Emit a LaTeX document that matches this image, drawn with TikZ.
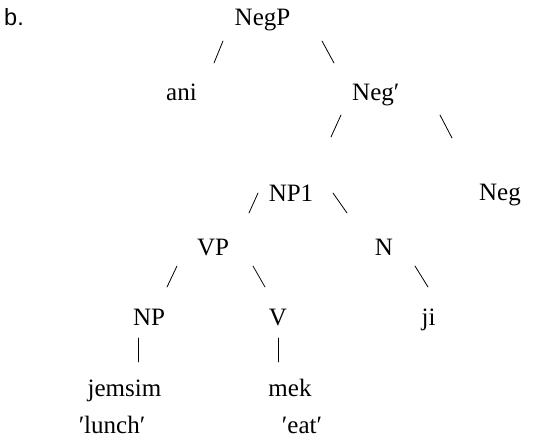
\documentclass[tikz,border=0pt]{standalone}
\usepackage{fontspec}
\setmainfont{Liberation Serif}
\newfontfamily\labelfont{Liberation Sans}
\begin{document}
\begin{tikzpicture}[x=1pt,y=-1pt,
  word/.style={inner sep=0pt,anchor=base,font=\fontsize{25}{30}\selectfont},
  branch/.style={line width=0.8pt,line cap=round}]
\useasboundingbox (0,0) rectangle (536,442);
% example label
\node[inner sep=0pt,anchor=base west,font=\labelfont\fontsize{23.5}{28}\selectfont] (lbl) at (4,25) {b.};
% tree labels
\node[word] (negp) at (262.5,25) {NegP};
\node[word] (ani) at (181.5,100) {ani};
\node[word,anchor=base west] (negbar) at (352,100) {Neg′};
\node[word] (np1) at (291,201) {NP1};
\node[word] (neg) at (500,200) {Neg};
\node[word] (vp) at (213,255) {VP};
\node[word] (n) at (384,255) {N};
\node[word] (np) at (149,325) {NP};
\node[word] (v) at (278,325) {V};
\node[word] (ji) at (428.5,325) {ji};
\node[word] (jemsim) at (124.5,396) {jemsim};
\node[word] (mek) at (290,396) {mek};
\node[word] (lunch) at (112,433) {′lunch′};
\node[word] (eat) at (302,433) {′eat′};
% branch strokes
\coordinate (a1) at (214,63);  \coordinate (a2) at (223,41);
\coordinate (b1) at (322,41);  \coordinate (b2) at (334,63);
\coordinate (c1) at (331,137); \coordinate (c2) at (341,115);
\coordinate (d1) at (440,115); \coordinate (d2) at (452,138);
\coordinate (e1) at (249,213); \coordinate (e2) at (258,193);
\coordinate (f1) at (333,193); \coordinate (f2) at (347,213);
\coordinate (g1) at (167,287); \coordinate (g2) at (177,266);
\coordinate (h1) at (253,266); \coordinate (h2) at (265,287);
\coordinate (i1) at (415,266); \coordinate (i2) at (428,287);
\coordinate (j1) at (138,338); \coordinate (j2) at (138,362);
\coordinate (k1) at (278,338); \coordinate (k2) at (278,362);
\draw[branch] (a1) -- (a2);
\draw[branch] (b1) -- (b2);
\draw[branch] (c1) -- (c2);
\draw[branch] (d1) -- (d2);
\draw[branch] (e1) -- (e2);
\draw[branch] (f1) -- (f2);
\draw[branch] (g1) -- (g2);
\draw[branch] (h1) -- (h2);
\draw[branch] (i1) -- (i2);
\draw[branch] (j1) -- (j2);
\draw[branch] (k1) -- (k2);
\end{tikzpicture}
\end{document}
